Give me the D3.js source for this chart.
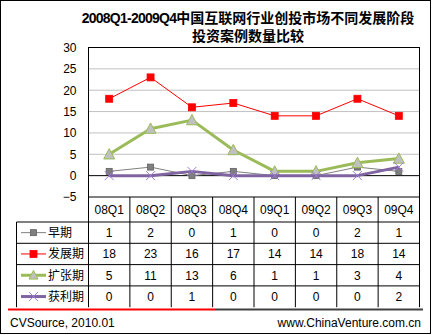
<!DOCTYPE html>
<html><head><meta charset="utf-8">
<script src="https://cdn.jsdelivr.net/npm/d3@7/dist/d3.min.js"></script>
<style>html,body{margin:0;padding:0;background:#fff;}svg{display:block;}</style>
</head><body>
<script>
const categories = ["08Q1","08Q2","08Q3","08Q4","09Q1","09Q2","09Q3","09Q4"];
const seriesNames = ["早期","发展期","扩张期","获利期"];
const early = [1,2,0,1,0,0,2,1];
const growth = [18,23,16,17,14,14,18,14];
const expansion = [5,11,13,6,1,1,3,4];
const profit = [0,0,1,0,0,0,0,2];
const yTicks = [-5,0,5,10,15,20,25,30];
const titlePrefix = "2008Q1-2009Q4";
const titleLines = ["中国互联网行业创投市场不同发展阶段","投资案例数量比较"];
const footerLeft = "CVSource, 2010.01";
const footerRight = "www.ChinaVenture.com.cn";

const W = 435, H = 335;
const pL = 88.5, pR = 419.5, pT = 47.5, pB = 197;
const tableLeft = 16.5, catRowBottom = 222, rowH = 21.3;
const font = "'Liberation Sans', Arial, 'Noto Sans CJK SC', sans-serif";

const svg = d3.select("body").append("svg").attr("width", W).attr("height", H);
svg.append("rect").attr("width", W).attr("height", H).attr("fill", "#fff");
svg.append("rect").attr("x",0.5).attr("y",0.5).attr("width",430).attr("height",333)
  .attr("fill","none").attr("stroke","#000");

// title
const t1 = svg.append("text").attr("x",248).attr("y",23).attr("text-anchor","middle")
  .attr("font-family","'Liberation Sans', 'Noto Sans CJK SC', sans-serif")
  .attr("font-weight","bold").attr("font-size",14).attr("fill","#000");
t1.append("tspan").attr("letter-spacing",-0.75).text(titlePrefix);
t1.append("tspan").text(titleLines[0]);
svg.append("text").attr("x",248).attr("y",41).attr("text-anchor","middle")
  .attr("font-family","'Liberation Sans', 'Noto Sans CJK SC', sans-serif")
  .attr("font-weight","bold").attr("font-size",14).attr("fill","#000").text(titleLines[1]);

const x = d3.scaleBand().domain(categories).range([pL,pR]);
const y = d3.scaleLinear().domain([-5,30]).range([pB,pT]);
const cx = c => x(c) + x.bandwidth()/2;

// gridlines
svg.append("g").selectAll("line").data(yTicks.filter(v=>v>0 && v<30)).join("line")
  .attr("x1",pL).attr("x2",pR).attr("y1",d=>y(d)).attr("y2",d=>y(d))
  .attr("stroke","#c0c0c0").attr("stroke-width",1);

// y axis labels
const yAxis = d3.axisLeft(y).tickValues(yTicks).tickSize(0).tickPadding(12);
const ga = svg.append("g").attr("transform",`translate(${pL},0)`).call(yAxis);
ga.select(".domain").remove();
ga.selectAll("text").attr("font-family",font).attr("font-size",12).attr("fill","#000");

// zero line
svg.append("line").attr("x1",pL).attr("x2",pR).attr("y1",y(0)).attr("y2",y(0)).attr("stroke","#000");

// plot border
svg.append("rect").attr("x",pL).attr("y",pT).attr("width",pR-pL).attr("height",pB-pT)
  .attr("fill","none").attr("stroke","#000");

// series
const series = [
  {name:seriesNames[0], values:early, color:"#808080", width:1, marker:"square", msize:6, mfill:"#7f7f7f", mstroke:"#606060"},
  {name:seriesNames[1], values:growth, color:"#ff0000", width:1, marker:"square", msize:7, mfill:"#ff0000", mstroke:"#ff0000"},
  {name:seriesNames[2], values:expansion, color:"#9bbb59", width:3, marker:"triangle", msize:11, mfill:"#c0c0c0", mstroke:"#9bbb59"},
  {name:seriesNames[3], values:profit, color:"#8064a2", width:3, marker:"x", msize:9, mfill:"none", mstroke:"#9b7fd4"}
];

function drawMarker(g, type, size, fill, stroke, px, py){
  if(type==="square"){
    g.append("rect").attr("x",px-size/2).attr("y",py-size/2).attr("width",size).attr("height",size)
      .attr("fill",fill).attr("stroke",stroke).attr("stroke-width",0.8);
  } else if(type==="triangle"){
    const h = size*0.85;
    g.append("path").attr("d",`M${px},${py-h/2-1}L${px+size/2},${py+h/2}L${px-size/2},${py+h/2}Z`)
      .attr("fill",fill).attr("stroke",stroke).attr("stroke-width",1);
  } else {
    const s = size/2;
    g.append("path").attr("d",`M${px-s},${py-s}L${px+s},${py+s}M${px-s},${py+s}L${px+s},${py-s}`)
      .attr("stroke",stroke).attr("stroke-width",1).attr("fill","none");
  }
}

const line = d3.line().x((d,i)=>cx(categories[i])).y(d=>y(d));
series.forEach(s=>{
  const g = svg.append("g");
  g.append("path").datum(s.values).attr("d",line).attr("fill","none")
    .attr("stroke",s.color).attr("stroke-width",s.width).attr("stroke-linejoin","round");
  s.values.forEach((v,i)=>drawMarker(g,s.marker,s.msize,s.mfill,s.mstroke,cx(categories[i]),y(v)));
});

// table
const tg = svg.append("g");
const tableBottom = catRowBottom + rowH*4;
categories.forEach((c,i)=>{
  tg.append("line").attr("x1",x(c)).attr("x2",x(c)).attr("y1",pB).attr("y2",tableBottom).attr("stroke","#000");
});
tg.append("line").attr("x1",pR).attr("x2",pR).attr("y1",pB).attr("y2",tableBottom).attr("stroke","#000");
tg.append("line").attr("x1",tableLeft).attr("x2",tableLeft).attr("y1",catRowBottom).attr("y2",tableBottom).attr("stroke","#000");
for(let r=0;r<4;r++){
  const yy = catRowBottom + r*rowH;
  tg.append("line").attr("x1",tableLeft).attr("x2",pR).attr("y1",yy).attr("y2",yy).attr("stroke","#000");
}
categories.forEach(c=>{
  tg.append("text").attr("x",cx(c)).attr("y",(pB+catRowBottom)/2+4.5).attr("text-anchor","middle")
    .attr("font-family",font).attr("font-size",12).text(c);
});
series.forEach((s,r)=>{
  const yc = catRowBottom + r*rowH + rowH/2;
  tg.append("line").attr("x1",21).attr("x2",46).attr("y1",yc).attr("y2",yc)
    .attr("stroke",s.color).attr("stroke-width",s.width);
  drawMarker(tg,s.marker,s.marker==="triangle"?9:s.msize,s.mfill,s.mstroke,33.5,yc);
  tg.append("text").attr("x",48).attr("y",yc+4.5).attr("font-family","'Noto Sans CJK SC', sans-serif")
    .attr("font-size",12).text(s.name);
  s.values.forEach((v,i)=>{
    tg.append("text").attr("x",cx(categories[i])).attr("y",yc+4.5).attr("text-anchor","middle")
      .attr("font-family",font).attr("font-size",12).text(v);
  });
});

// separator
svg.append("line").attr("x1",8).attr("x2",215).attr("y1",309.5).attr("y2",309.5).attr("stroke","#ff0000").attr("stroke-width",2);
svg.append("line").attr("x1",215).attr("x2",423).attr("y1",309.5).attr("y2",309.5).attr("stroke","#404040").attr("stroke-width",2);

// footer
svg.append("text").attr("x",10).attr("y",327).attr("font-family",font).attr("font-size",12).text(footerLeft);
svg.append("text").attr("x",421).attr("y",327).attr("text-anchor","end").attr("font-family",font).attr("font-size",12).text(footerRight);
</script>
</body></html>
